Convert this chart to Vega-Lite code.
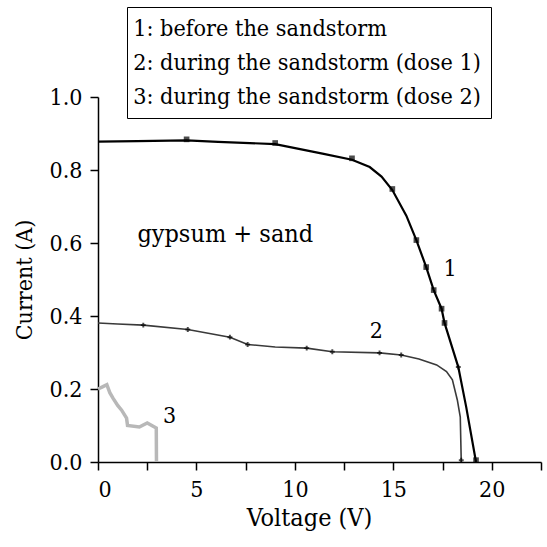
{
  "$schema": "https://vega.github.io/schema/vega-lite/v6.json",
  "width": 443,
  "height": 365,
  "autosize": {"type": "none"},
  "padding": {"left": 98, "top": 97, "right": 6, "bottom": 85},
  "background": "white",
  "config": {
    "view": {"stroke": null},
    "axis": {"grid": false, "domainColor": "black", "tickColor": "black", "labelColor": "black", "titleColor": "black", "labelFont": "DejaVu Serif Condensed, DejaVu Serif", "titleFont": "DejaVu Serif Condensed, DejaVu Serif", "titleFontWeight": "normal", "domainWidth": 1.5, "tickWidth": 1.5},
    "legend": {"labelFont": "DejaVu Serif Condensed, DejaVu Serif"}
  },
  "datasets": {
    "curves": [
      {"series": "1: before the sandstorm", "V": 0, "I": 0.878},
      {"series": "1: before the sandstorm", "V": 2, "I": 0.879},
      {"series": "1: before the sandstorm", "V": 4.5, "I": 0.881},
      {"series": "1: before the sandstorm", "V": 6.1, "I": 0.877},
      {"series": "1: before the sandstorm", "V": 9.0, "I": 0.871},
      {"series": "1: before the sandstorm", "V": 10.2, "I": 0.858},
      {"series": "1: before the sandstorm", "V": 11.4, "I": 0.845},
      {"series": "1: before the sandstorm", "V": 12.9, "I": 0.828},
      {"series": "1: before the sandstorm", "V": 13.8, "I": 0.808},
      {"series": "1: before the sandstorm", "V": 14.4, "I": 0.782},
      {"series": "1: before the sandstorm", "V": 14.95, "I": 0.745},
      {"series": "1: before the sandstorm", "V": 15.66, "I": 0.675},
      {"series": "1: before the sandstorm", "V": 16.17, "I": 0.608},
      {"series": "1: before the sandstorm", "V": 16.67, "I": 0.534},
      {"series": "1: before the sandstorm", "V": 17.05, "I": 0.471},
      {"series": "1: before the sandstorm", "V": 17.45, "I": 0.42},
      {"series": "1: before the sandstorm", "V": 17.6, "I": 0.381},
      {"series": "1: before the sandstorm", "V": 18.3, "I": 0.26},
      {"series": "1: before the sandstorm", "V": 18.7, "I": 0.151},
      {"series": "1: before the sandstorm", "V": 19.2, "I": 0.0},
      {"series": "2: during the sandstorm (dose 1)", "V": 0, "I": 0.381},
      {"series": "2: during the sandstorm (dose 1)", "V": 1, "I": 0.378},
      {"series": "2: during the sandstorm (dose 1)", "V": 2.3, "I": 0.375},
      {"series": "2: during the sandstorm (dose 1)", "V": 4.56, "I": 0.363},
      {"series": "2: during the sandstorm (dose 1)", "V": 6.7, "I": 0.342},
      {"series": "2: during the sandstorm (dose 1)", "V": 7.6, "I": 0.322},
      {"series": "2: during the sandstorm (dose 1)", "V": 9.0, "I": 0.315},
      {"series": "2: during the sandstorm (dose 1)", "V": 10.6, "I": 0.312},
      {"series": "2: during the sandstorm (dose 1)", "V": 11.9, "I": 0.302},
      {"series": "2: during the sandstorm (dose 1)", "V": 14.3, "I": 0.299},
      {"series": "2: during the sandstorm (dose 1)", "V": 15.4, "I": 0.293},
      {"series": "2: during the sandstorm (dose 1)", "V": 16.3, "I": 0.282},
      {"series": "2: during the sandstorm (dose 1)", "V": 17.2, "I": 0.266},
      {"series": "2: during the sandstorm (dose 1)", "V": 17.7, "I": 0.248},
      {"series": "2: during the sandstorm (dose 1)", "V": 18.0, "I": 0.225},
      {"series": "2: during the sandstorm (dose 1)", "V": 18.25, "I": 0.17},
      {"series": "2: during the sandstorm (dose 1)", "V": 18.4, "I": 0.123},
      {"series": "2: during the sandstorm (dose 1)", "V": 18.45, "I": 0.0},
      {"series": "3: during the sandstorm (dose 2)", "V": 0, "I": 0.2},
      {"series": "3: during the sandstorm (dose 2)", "V": 0.2, "I": 0.205},
      {"series": "3: during the sandstorm (dose 2)", "V": 0.45, "I": 0.212},
      {"series": "3: during the sandstorm (dose 2)", "V": 0.6, "I": 0.19},
      {"series": "3: during the sandstorm (dose 2)", "V": 0.76, "I": 0.175},
      {"series": "3: during the sandstorm (dose 2)", "V": 1.0, "I": 0.155},
      {"series": "3: during the sandstorm (dose 2)", "V": 1.2, "I": 0.142},
      {"series": "3: during the sandstorm (dose 2)", "V": 1.45, "I": 0.12},
      {"series": "3: during the sandstorm (dose 2)", "V": 1.5, "I": 0.1},
      {"series": "3: during the sandstorm (dose 2)", "V": 2.1, "I": 0.096},
      {"series": "3: during the sandstorm (dose 2)", "V": 2.5, "I": 0.107},
      {"series": "3: during the sandstorm (dose 2)", "V": 2.96, "I": 0.093},
      {"series": "3: during the sandstorm (dose 2)", "V": 2.97, "I": 0.0}
    ],
    "markers": [
      {"series": "1", "V": 4.5, "I": 0.884},
      {"series": "1", "V": 9.0, "I": 0.874},
      {"series": "1", "V": 12.9, "I": 0.832},
      {"series": "1", "V": 14.95, "I": 0.748},
      {"series": "1", "V": 16.17, "I": 0.608},
      {"series": "1", "V": 16.67, "I": 0.534},
      {"series": "1", "V": 17.05, "I": 0.471},
      {"series": "1", "V": 17.45, "I": 0.42},
      {"series": "1", "V": 17.6, "I": 0.381},
      {"series": "1", "V": 19.2, "I": 0.005},
      {"series": "2", "V": 2.3, "I": 0.375},
      {"series": "2", "V": 4.56, "I": 0.363},
      {"series": "2", "V": 6.7, "I": 0.342},
      {"series": "2", "V": 7.6, "I": 0.322},
      {"series": "2", "V": 10.6, "I": 0.312},
      {"series": "2", "V": 11.9, "I": 0.302},
      {"series": "2", "V": 14.3, "I": 0.299},
      {"series": "2", "V": 15.4, "I": 0.293},
      {"series": "2", "V": 18.3, "I": 0.26},
      {"series": "2", "V": 18.45, "I": 0.005}
    ],
    "labels": [
      {"V": 17.55, "I": 0.53, "text": "1"},
      {"V": 13.8, "I": 0.36, "text": "2"},
      {"V": 3.3, "I": 0.125, "text": "3"}
    ],
    "notes": [
      {"V": 2.0, "I": 0.625, "text": "gypsum + sand"}
    ]
  },
  "layer": [
    {
      "data": {"name": "curves"},
      "transform": [{"filter": "datum.series[0] === '3'"}],
      "mark": {"type": "line", "clip": false, "strokeWidth": 3.5},
      "encoding": {
        "x": {"field": "V", "type": "quantitative", "scale": {"domain": [0, 22.5], "nice": false, "zero": false},
          "axis": {"title": "Voltage (V)", "titleX": 211, "values": [0, 2.5, 5, 7.5, 10, 12.5, 15, 17.5, 20, 22.5], "labelExpr": "datum.value % 5 === 0 ? datum.label : ''", "labelFontSize": 23, "titleFontSize": 25, "tickSize": 8, "labelPadding": 8, "titlePadding": 4}},
        "y": {"field": "I", "type": "quantitative", "scale": {"domain": [0, 1], "nice": false},
          "axis": {"title": "Current (A)", "values": [0, 0.1, 0.2, 0.3, 0.4, 0.5, 0.6, 0.7, 0.8, 0.9, 1.0], "labelExpr": "round(datum.value * 10) % 2 === 0 ? format(datum.value, '.1f') : ''", "labelFontSize": 23, "titleFontSize": 23, "tickSize": 8, "labelPadding": 8, "titlePadding": 13}},
        "color": {"field": "series", "type": "nominal",
          "scale": {"domain": ["1: before the sandstorm", "2: during the sandstorm (dose 1)", "3: during the sandstorm (dose 2)"], "range": ["#000000", "#3a3a3a", "#b8b8b8"]},
          "legend": {"title": null, "orient": "none", "legendX": 29, "legendY": -90, "symbolType": "circle", "symbolSize": 0, "symbolOpacity": 0, "symbolStrokeWidth": 0, "labelOffset": -27, "labelFontSize": 23.2, "labelColor": "black", "labelLimit": 0, "strokeColor": "black", "fillColor": "white", "padding": 10, "rowPadding": 10}}
      }
    },
    {
      "data": {"name": "curves"},
      "transform": [{"filter": "datum.series[0] === '2'"}],
      "mark": {"type": "line", "clip": false, "strokeWidth": 1.6},
      "encoding": {
        "x": {"field": "V", "type": "quantitative"},
        "y": {"field": "I", "type": "quantitative"},
        "color": {"field": "series", "type": "nominal"}
      }
    },
    {
      "data": {"name": "curves"},
      "transform": [{"filter": "datum.series[0] === '1'"}],
      "mark": {"type": "line", "clip": false, "strokeWidth": 2.2},
      "encoding": {
        "x": {"field": "V", "type": "quantitative"},
        "y": {"field": "I", "type": "quantitative"},
        "color": {"field": "series", "type": "nominal"}
      }
    },
    {
      "data": {"name": "markers"},
      "mark": {"type": "point", "filled": true, "clip": false},
      "encoding": {
        "x": {"field": "V", "type": "quantitative"},
        "y": {"field": "I", "type": "quantitative"},
        "shape": {"field": "series", "type": "nominal", "scale": {"domain": ["1", "2"], "range": ["square", "cross"]}, "legend": null},
        "size": {"field": "series", "type": "nominal", "scale": {"domain": ["1", "2"], "range": [32, 24]}, "legend": null},
        "color": {"value": "black"}
      }
    },
    {
      "data": {"name": "labels"},
      "mark": {"type": "text", "font": "DejaVu Serif Condensed, DejaVu Serif", "fontSize": 23, "align": "left", "baseline": "middle", "color": "black"},
      "encoding": {
        "x": {"field": "V", "type": "quantitative"},
        "y": {"field": "I", "type": "quantitative"},
        "text": {"field": "text"}
      }
    },
    {
      "data": {"name": "notes"},
      "mark": {"type": "text", "font": "DejaVu Serif Condensed, DejaVu Serif", "fontSize": 25, "align": "left", "baseline": "middle", "color": "black"},
      "encoding": {
        "x": {"field": "V", "type": "quantitative"},
        "y": {"field": "I", "type": "quantitative"},
        "text": {"field": "text"}
      }
    }
  ]
}
